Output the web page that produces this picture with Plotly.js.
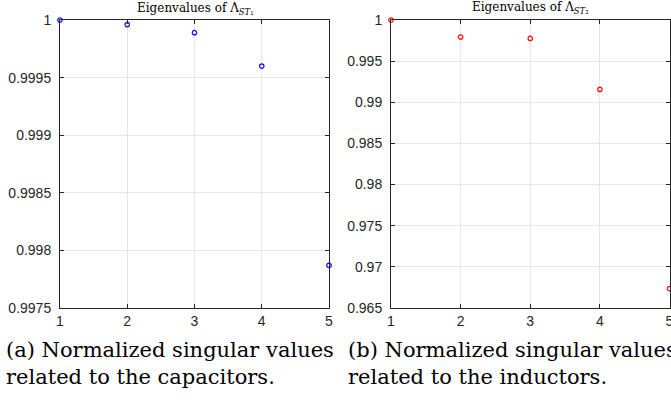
<!DOCTYPE html>
<html><head><meta charset="utf-8">
<script src="https://cdn.plot.ly/plotly-3.0.1.min.js"></script>
<style>html,body{margin:0;padding:0;background:#fff;}#chart{width:671px;height:401px;}</style>
</head><body><div id="chart"></div>
<script>
const indices = [1, 2, 3, 4, 5];
const capValues = [1.0, 0.99996, 0.99989, 0.9996, 0.99787];
const indValues = [1.0, 0.99793, 0.99776, 0.99157, 0.96736];
const xTicks = [1, 2, 3, 4, 5];
const capYTicks = [0.9975, 0.998, 0.9985, 0.999, 0.9995, 1];
const capYLabels = ['0.9975', '0.998', '0.9985', '0.999', '0.9995', '1'];
const indYTicks = [0.965, 0.97, 0.975, 0.98, 0.985, 0.99, 0.995, 1];
const indYLabels = ['0.965', '0.97', '0.975', '0.98', '0.985', '0.99', '0.995', '1'];
const title1 = 'Eigenvalues of Λ<sub><i>ST</i>₁</sub>';
const title2 = 'Eigenvalues of Λ<sub><i>ST</i>₂</sub>';
const caption1 = '(a) Normalized singular values<br>related to the capacitors.';
const caption2 = '(b) Normalized singular values<br>related to the inductors.';

const W = 671, H = 401;
const px = v => v / W, py = v => 1 - v / H;
const axCol = '#262626';
const tickFont = {family: 'Liberation Sans', size: 14, color: axCol};
function xax(d, anchor) {
  return {domain: d, anchor: anchor, range: [1, 5], tickvals: xTicks, ticktext: xTicks.map(String),
    showgrid: true, gridcolor: '#e6e6e6', gridwidth: 1, zeroline: false,
    showline: true, linecolor: axCol, linewidth: 1, mirror: 'ticks', ticks: 'inside', ticklen: 4, tickcolor: axCol,
    tickfont: tickFont, ticklabeloverflow: 'allow', fixedrange: true};
}
function yax(range, vals, labels, anchor) {
  return {domain: [py(308), py(20)], anchor: anchor, range: range, tickvals: vals, ticktext: labels,
    showgrid: true, gridcolor: '#e6e6e6', gridwidth: 1, zeroline: false,
    showline: true, linecolor: axCol, linewidth: 1, mirror: 'ticks', ticks: 'inside', ticklen: 4, tickcolor: axCol,
    tickfont: tickFont, ticklabeloverflow: 'allow', ticklabelstandoff: 5, fixedrange: true};
}
const data = [
  {x: indices, y: capValues, xaxis: 'x', yaxis: 'y', mode: 'markers', type: 'scatter', cliponaxis: false,
   marker: {symbol: 'circle-open', size: 4.5, color: '#0000ff', line: {width: 1.2, color: '#0000ff'}}},
  {x: indices, y: indValues, xaxis: 'x2', yaxis: 'y2', mode: 'markers', type: 'scatter', cliponaxis: false,
   marker: {symbol: 'circle-open', size: 4.5, color: '#ff0000', line: {width: 1.2, color: '#ff0000'}}}
];
const serif = 'DejaVu Serif';
const layout = {
  width: W, height: H, margin: {l: 0, r: 0, t: 0, b: 0}, showlegend: false,
  paper_bgcolor: '#fff', plot_bgcolor: '#fff',
  xaxis: xax([px(60), px(329)], 'y'),
  yaxis: yax([0.9975, 1], capYTicks, capYLabels, 'x'),
  xaxis2: xax([px(391), px(669.5)], 'y2'),
  yaxis2: yax([0.965, 1], indYTicks, indYLabels, 'x2'),
  annotations: [
    {text: title1, xref: 'paper', yref: 'paper', x: px(195), y: py(9), xanchor: 'center', yanchor: 'middle', showarrow: false,
     font: {family: serif, size: 12, color: '#000'}},
    {text: title2, xref: 'paper', yref: 'paper', x: px(530), y: py(8), xanchor: 'center', yanchor: 'middle', showarrow: false,
     font: {family: serif, size: 12, color: '#000'}},
    {text: caption1, xref: 'paper', yref: 'paper', x: px(4), y: py(336), xanchor: 'left', yanchor: 'top', align: 'left', showarrow: false,
     font: {family: serif, size: 21, color: '#000'}},
    {text: caption2, xref: 'paper', yref: 'paper', x: px(346), y: py(336), xanchor: 'left', yanchor: 'top', align: 'left', showarrow: false,
     font: {family: serif, size: 21, color: '#000'}}
  ]
};
Plotly.newPlot('chart', data, layout, {staticPlot: true, displayModeBar: false});
</script>
</body></html>
